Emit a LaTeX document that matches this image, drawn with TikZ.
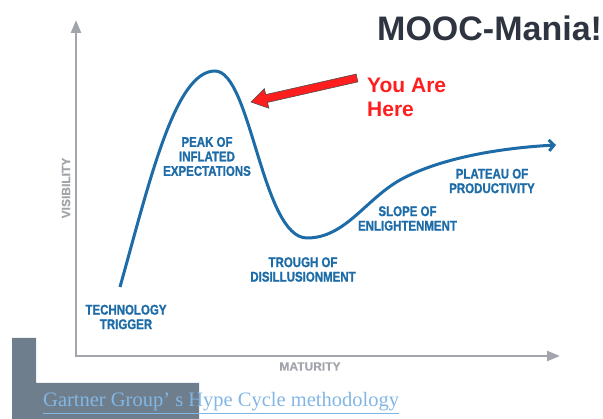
\documentclass[tikz,border=0pt]{standalone}
\usepackage{fontspec}
\setmainfont{Liberation Serif}
\setsansfont{Liberation Sans}
\newfontfamily\stagefont[FakeStretch=0.82,FakeBold=1.2]{Liberation Sans Bold}
\newfontfamily\axisfont[FakeBold=0.8]{Liberation Sans Bold}
\usetikzlibrary{arrows.meta}
\definecolor{hypeblue}{HTML}{1D6CA8}
\definecolor{axisgray}{HTML}{A2A6AC}
\definecolor{slate}{HTML}{6E7E8D}
\definecolor{titlegray}{HTML}{2E3541}
\definecolor{herered}{HTML}{FF1E1E}
\definecolor{linkblue}{HTML}{82B6E4}
\tikzset{
  stage/.style={text=hypeblue,font=\stagefont\fontsize{14}{14.5}\selectfont,align=center,inner sep=0pt},
  axislabel/.style={text=axisgray,font=\axisfont\fontsize{12}{12}\selectfont,inner sep=0pt},
  axisline/.style={axisgray,line width=2.5pt,{Triangle[length=13pt,width=10pt]}-{Triangle[length=13pt,width=10pt]}}
}
\begin{document}
\begin{tikzpicture}[x=1pt,y=-1pt]
		\useasboundingbox (0,0) rectangle (603,419);
		% axes
		\coordinate (top) at (76,20);
		\coordinate (origin) at (76,356);
		\coordinate (right) at (560,356);
		\draw[axisline] (top) -- (origin) -- (right);
		\node[axislabel,rotate=90] (vis) at (66,188) {VISIBILITY};
		\node[axislabel] (mat) at (310,366.5) {MATURITY};
		% hype curve
		\draw[hypeblue,line width=3pt,-{Straight Barb[length=5pt,width=11pt]}] (120,287) .. controls (150,180) and (175,71) .. (215,71) .. controls (251,71) and (262,238) .. (307,238) .. controls (345,238) and (365,200) .. (400,180) .. controls (440,158) and (500,148) .. (556,145);
		\foreach \Pos/\Name/\Text in {(126,317)/trigger/TECHNOLOGY\\TRIGGER,(207,156.5)/peak/PEAK OF\\INFLATED\\EXPECTATIONS,(303,269.5)/trough/TROUGH OF\\DISILLUSIONMENT,(407.5,218.5)/slope/SLOPE OF\\ENLIGHTENMENT,(492,181)/plateau/PLATEAU OF\\PRODUCTIVITY}
		\node[stage] (\Name) at \Pos {\Text};
		% title and pointer
		\node[anchor=base west,inner sep=0pt,text=titlegray,font=\sffamily\bfseries\fontsize{34}{40}\selectfont] (title) at (377,41) {MOOC-Mania!};
		\node[anchor=north west,inner sep=0pt,align=left,text=herered,font=\sffamily\bfseries\fontsize{21}{24}\selectfont] (here) at (367,78) {You Are\\Here};
		\filldraw[fill=herered,draw=black!70,line width=0.6pt] (356.1,74.1) -- (357.9,81.9) -- (267.5,102.4) -- (268.8,108.2) -- (251,102) -- (264.4,88.7) -- (265.7,94.6) -- cycle;
		% source
		\fill[slate] (12,338) -- (36,338) -- (36,383) -- (199,383) -- (199,419) -- (12,419) -- cycle;
		\node[anchor=base west,inner sep=0pt,text=linkblue,font=\fontsize{20.5}{24}\selectfont] (link) at (43,407) {\underline{Gartner Group’ s Hype Cycle methodology}};
	\end{tikzpicture}
\end{document}
